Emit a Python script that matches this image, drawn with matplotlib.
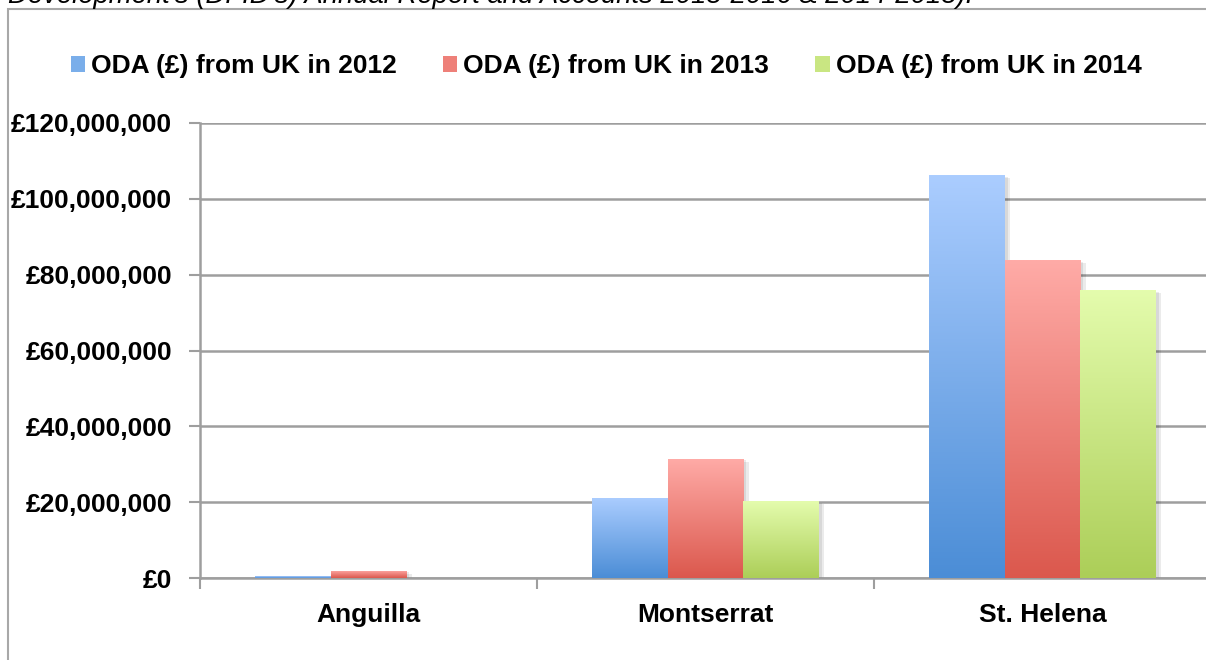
import numpy as np
import matplotlib
matplotlib.use('Agg')
import matplotlib.pyplot as plt
from matplotlib.colors import LinearSegmentedColormap
from matplotlib.ticker import FuncFormatter, FixedLocator
import matplotlib.patheffects as pe
from matplotlib.patches import Rectangle

# ---------------- data ----------------
territories = ['Anguilla', 'Montserrat', 'St. Helena']
series_labels = ['ODA (£) from UK in 2012', 'ODA (£) from UK in 2013', 'ODA (£) from UK in 2014']
oda_2012 = [500000, 21200000, 106200000]
oda_2013 = [1850000, 31400000, 83800000]
oda_2014 = [0, 20200000, 75900000]
y_ticks = [0, 20000000, 40000000, 60000000, 80000000, 100000000, 120000000]
caption = "Development's (DFID's) Annual Report and Accounts 2015-2016 & 2014-2015)."

# ---------------- style ----------------
plt.rcParams['font.family'] = ['Liberation Sans', 'DejaVu Sans']
FS = 19
grid_col = '#9e9e9e'
grad_colors = [('#4b8dd6', '#abcdff'), ('#db584d', '#ffaba7'), ('#acce58', '#e4fcad')]
mid_colors = ['#7aaeea', '#ee8079', '#c9e682']

fig = plt.figure(figsize=(12.06, 6.6), dpi=100)
W, H = 1206, 660
ax = fig.add_axes([200 / W, 82 / H, 1011 / W, 455 / H])

x = np.arange(len(territories))
width = 0.224
series = [oda_2012, oda_2013, oda_2014]

shadow = [pe.SimplePatchShadow(offset=(4, -2), shadow_rgbFace='#000000', alpha=0.08),
          pe.SimplePatchShadow(offset=(2, -1), shadow_rgbFace='#000000', alpha=0.08),
          pe.Normal()]

for i, (vals, (c_bot, c_top)) in enumerate(zip(series, grad_colors)):
    bars = ax.bar(x + (i - 1) * width, vals, width, color=c_bot, zorder=2,
                  linewidth=0, path_effects=shadow)
    cmap = LinearSegmentedColormap.from_list(f'g{i}', [c_bot, c_top])
    grad = np.linspace(0, 1, 256).reshape(-1, 1)
    for p in bars.patches:
        h = p.get_height()
        if h <= 0:
            continue
        x0, y0, w = p.get_x(), p.get_y(), p.get_width()
        im = ax.imshow(grad, extent=[x0, x0 + w, y0, y0 + h], origin='lower',
                       aspect='auto', cmap=cmap, zorder=3, interpolation='bilinear')
        im.set_clip_path(p)

ax.set_xlim(-0.5, 2.5)
ax.set_ylim(0, 120000000)

# y axis
ax.yaxis.set_major_locator(FixedLocator(y_ticks))
ax.yaxis.set_major_formatter(FuncFormatter(lambda v, pos: '£{:,.0f}'.format(v)))
ax.yaxis.grid(True, color=grid_col, linewidth=1.8, zorder=0)
ax.set_axisbelow(True)
ax.tick_params(axis='y', which='major', length=8, width=1.5, color=grid_col,
               labelsize=FS, pad=12)
for lab in ax.get_yticklabels():
    lab.set_fontweight('bold')

# x axis
ax.set_xticks(x)
ax.set_xticklabels(territories, fontsize=FS, fontweight='bold')
ax.set_xticks([-0.5, 0.5, 1.5, 2.5], minor=True)
ax.tick_params(axis='x', which='major', length=0, pad=18)
ax.tick_params(axis='x', which='minor', length=8, width=1.5, color=grid_col)

for s in ['top', 'right']:
    ax.spines[s].set_visible(False)
for s in ['left', 'bottom']:
    ax.spines[s].set_color(grid_col)
    ax.spines[s].set_linewidth(1.8)

# legend
handles = [Rectangle((0, 0), 1, 1, facecolor=c, edgecolor='none') for c in mid_colors]
fig.legend(handles, series_labels, loc='center', bbox_to_anchor=(606 / W, 1 - 66 / H),
           ncol=3, frameon=False, prop={'size': FS, 'weight': 'bold'},
           handlelength=0.55, handleheight=0.55, handletextpad=0.22,
           columnspacing=1.75, borderpad=0, borderaxespad=0)

# outer frame & caption (clipped at the top, as in the source image)
fig.patches.append(Rectangle((8 / W, -0.2), 1.5, 1.2 - 9 / H, transform=fig.transFigure,
                             fill=False, edgecolor='#a8a8a8', linewidth=1.5, zorder=0))
fig.text(8 / W, 1 - 3 / H, caption, fontsize=19.8, style='italic', va='baseline', ha='left')

fig.savefig('out.png', dpi=100)
